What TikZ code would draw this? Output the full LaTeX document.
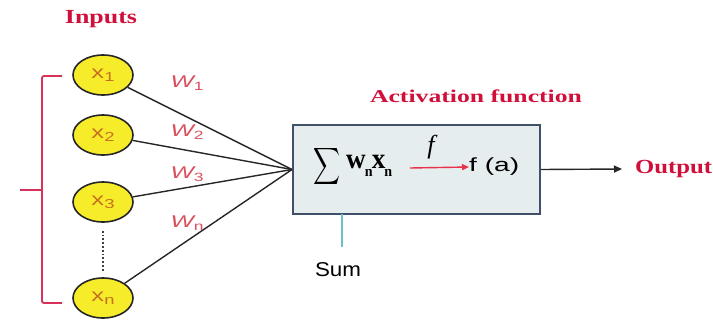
\documentclass[tikz,border=0pt]{standalone}
\usepackage{fontspec}
\setmainfont{Liberation Serif}
\setsansfont{Liberation Sans}
\usepackage{graphicx}
\usetikzlibrary{shapes.geometric,arrows.meta,calc}
\definecolor{headred}{HTML}{D0103A}
\definecolor{wred}{HTML}{D9505F}
\definecolor{brk}{HTML}{D8325A}
\definecolor{inyellow}{HTML}{F7EC2A}
\definecolor{inorange}{HTML}{C87020}
\definecolor{boxfill}{HTML}{E6EDEE}
\definecolor{boxline}{HTML}{3F5068}
\definecolor{teal}{HTML}{6CC0C8}
\definecolor{arrred}{HTML}{E8324A}
\newcommand\fitw[2]{\resizebox{#1}{\height}{#2}}
\newcommand\inlab[1]{\fitw{23pt}{\sffamily\fontsize{18}{18}\selectfont x\raisebox{-3pt}{\fontsize{13}{13}\selectfont #1}}}
\newcommand\wlab[1]{\fitw{33pt}{\sffamily\itshape\fontsize{17}{17}\selectfont W\raisebox{-3.5pt}{\fontsize{12}{12}\selectfont\upshape #1}}}
\tikzset{
  inputnode/.style={ellipse, draw=black!85, line width=1.6pt, fill=inyellow,
    minimum width=60pt, minimum height=40pt, inner sep=0pt, text=inorange},
  weightlab/.style={text=wred, inner sep=0pt},
  heading/.style={text=headred, font=\bfseries, inner sep=0pt},
  link/.style={black!85, line width=1.4pt},
}
\begin{document}
\begin{tikzpicture}[x=1pt,y=-1pt]
\useasboundingbox (0,0) rectangle (713,327);
% headings
\node[heading] (inputs) at (101,19) {\fitw{72pt}{\fontsize{20}{20}\selectfont Inputs}};
\node[heading] (act) at (476,96) {\fitw{212pt}{\fontsize{18}{18}\selectfont Activation function}};
\node[heading, anchor=west] (out) at (635,169) {\fitw{77pt}{\fontsize{20}{20}\selectfont Output}};
% input nodes
\node[inputnode] (x1) at (103,75) {\inlab{1}};
\node[inputnode] (x2) at (103,135) {\inlab{2}};
\node[inputnode] (x3) at (103,202) {\inlab{3}};
\node[inputnode] (xn) at (103,298) {\inlab{n}};
\draw[black!75, line width=1.8pt, dotted] ($(x3.south)+(0,8)$) -- ($(xn.north)+(0,-6)$);
% bracket
\draw[brk, line width=1.8pt, rounded corners=2pt] (62,76) coordinate (bt) -- (42,76) -- (42,303) -- (62,303) coordinate (bb);
\draw[brk, line width=1.8pt] (20,190) coordinate (bm) -- (42,190);
% box
\node[draw=boxline, line width=2pt, fill=boxfill, minimum width=247pt, minimum height=89pt, inner sep=0pt] (box) at (416.5,169.5) {};
% links
\draw[link] (x1) -- (box.west);
\draw[link] (x2) -- (box.west);
\draw[link] (x3) -- (box.west);
\draw[link] (xn) -- (box.west);
% weights
\node[weightlab] (w1) at (187,83) {\wlab{1}};
\node[weightlab] (w2) at (187,132) {\wlab{2}};
\node[weightlab] (w3) at (187,174) {\wlab{3}};
\node[weightlab] (wn) at (187,223) {\wlab{n}};
% formula
\node[inner sep=0pt] (sigma) at (327,166) {\resizebox{27pt}{27pt}{$\displaystyle\sum$}};
\node[inner sep=0pt, anchor=west] (wx) at (346,166) {\fitw{46pt}{\bfseries\fontsize{29}{29}\selectfont w\kern-1pt\raisebox{-8pt}{\fontsize{15}{15}\selectfont n}\kern-1pt x\kern-1pt\raisebox{-8pt}{\fontsize{15}{15}\selectfont n}}};
\coordinate (fa0) at (410,168);
\node[inner sep=0pt, anchor=west] (fa) at (469,167) {\fitw{50pt}{\sffamily\fontsize{19}{19}\selectfont f (a)}};
\draw[arrred, line width=1.4pt, -{Triangle[length=7pt,width=6pt]}] (fa0) -- (fa.west);
\node[inner sep=0pt] (f) at (431,147) {\itshape\fontsize{26}{26}\selectfont f};
% sum label
\node[inner sep=0pt] (sum) at (338,270) {\fitw{46pt}{\sffamily\fontsize{20}{20}\selectfont Sum}};
\coordinate (st) at (342,214);
\draw[teal, line width=1.3pt] (st) -- (342,247) coordinate (sb);
% output
\draw[link, -{Triangle[length=8pt,width=7pt]}] (box.east) -- (622,169) coordinate (oe);
\end{tikzpicture}
\end{document}
